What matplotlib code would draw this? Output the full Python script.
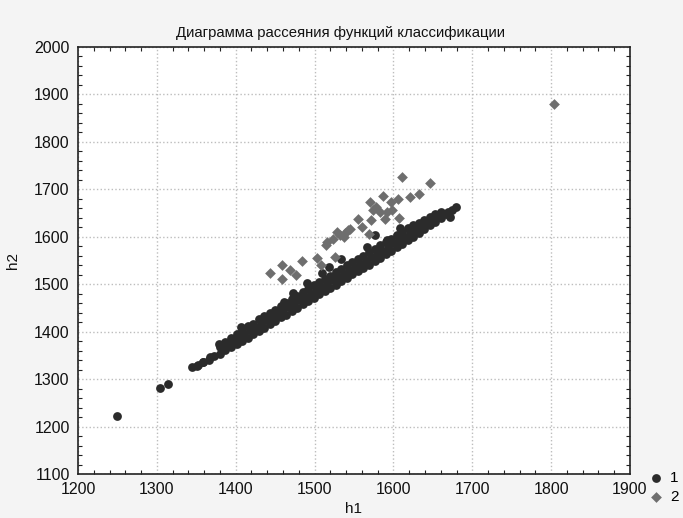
import numpy as np
import matplotlib
matplotlib.use("Agg")
import matplotlib.pyplot as plt
from matplotlib.ticker import MultipleLocator

# group 1 - dense band, lower edge
band_low_h1 = [1345, 1352, 1359, 1366, 1373, 1380, 1387, 1394, 1401, 1408, 1415, 1422,
               1429, 1436, 1443, 1450, 1457, 1464, 1471, 1478, 1485, 1492, 1499, 1506,
               1513, 1520, 1527, 1534, 1541, 1548, 1555, 1562, 1569, 1576, 1583, 1590,
               1597, 1604, 1611, 1618, 1625, 1632, 1639, 1646, 1653, 1660, 1667, 1674]
band_low_h2 = [1325, 1329, 1336, 1341, 1348, 1353, 1361, 1367, 1373, 1381, 1387, 1395,
               1401, 1408, 1416, 1422, 1430, 1436, 1444, 1450, 1458, 1464, 1471, 1479,
               1485, 1493, 1499, 1507, 1513, 1521, 1527, 1535, 1541, 1549, 1556, 1563,
               1570, 1578, 1585, 1593, 1600, 1608, 1616, 1624, 1632, 1640, 1648, 1656]

# group 1 - middle of the band
band_mid_h1 = [1383, 1390, 1397, 1404, 1411, 1418, 1425, 1432, 1439, 1446, 1453, 1460,
               1467, 1474, 1481, 1488, 1495, 1502, 1509, 1516, 1523, 1530, 1537, 1544,
               1551, 1558, 1565, 1572, 1579, 1586, 1593, 1600, 1607, 1614, 1621, 1628,
               1635, 1642, 1649]
band_mid_h2 = [1366, 1374, 1382, 1389, 1396, 1403, 1410, 1417, 1424, 1431, 1438, 1445,
               1452, 1459, 1466, 1474, 1480, 1487, 1494, 1501, 1508, 1515, 1522, 1529,
               1536, 1543, 1550, 1557, 1564, 1571, 1578, 1586, 1593, 1600, 1607, 1614,
               1621, 1628, 1635]

# group 1 - upper edge
band_up_h1 = [1380, 1387, 1394, 1401, 1408, 1415, 1422, 1429, 1436, 1443, 1450, 1457,
              1464, 1471, 1478, 1485, 1492, 1499, 1506, 1513, 1520, 1527, 1534, 1541,
              1548, 1555, 1562, 1569, 1576, 1583, 1590, 1597, 1604, 1611, 1618, 1625,
              1632, 1639, 1646, 1653, 1660]
band_up_h2 = [1368, 1378, 1386, 1395, 1402, 1411, 1417, 1426, 1432, 1440, 1446, 1455,
              1461, 1469, 1475, 1483, 1489, 1498, 1504, 1512, 1518, 1526, 1532, 1540,
              1546, 1554, 1560, 1568, 1574, 1582, 1588, 1596, 1603, 1611, 1618, 1624,
              1629, 1635, 1641, 1647, 1652]

# group 1 - single points off the band
extra1_h1 = [1249, 1304, 1314, 1351, 1358, 1367, 1379, 1393, 1407, 1461, 1473, 1490,
             1509, 1518, 1533, 1566, 1577, 1592, 1608, 1653, 1669, 1672, 1679]
extra1_h2 = [1222, 1281, 1290, 1328, 1336, 1347, 1374, 1379, 1410, 1463, 1482, 1503,
             1524, 1537, 1554, 1579, 1604, 1594, 1619, 1646, 1653, 1642, 1663]

# group 2
grp2_h1 = [1443, 1459, 1469, 1459, 1476, 1484, 1503, 1508, 1515, 1516, 1523, 1528,
           1526, 1537, 1542, 1532, 1539, 1545, 1560, 1555, 1569, 1571, 1589, 1607,
           1570, 1578, 1574, 1583, 1592, 1598, 1597, 1606, 1587, 1621, 1632, 1611,
           1646, 1803]
grp2_h2 = [1524, 1541, 1530, 1511, 1520, 1549, 1556, 1541, 1583, 1589, 1596, 1611,
           1558, 1600, 1615, 1604, 1608, 1617, 1621, 1638, 1606, 1636, 1638, 1640,
           1674, 1663, 1657, 1653, 1653, 1657, 1674, 1680, 1686, 1684, 1691, 1727,
           1714, 1880]

plt.rcParams['font.family'] = ['Liberation Sans', 'DejaVu Sans']

fig = plt.figure(figsize=(6.83, 5.18), dpi=100, facecolor='#f4f4f4')
ax = fig.add_axes([0.1142, 0.0849, 0.8082, 0.8244])
ax.set_facecolor('white')

g1_h1 = band_low_h1 + band_mid_h1 + band_up_h1 + extra1_h1
g1_h2 = band_low_h2 + band_mid_h2 + band_up_h2 + extra1_h2

ax.scatter(g1_h1, g1_h2, s=40, marker='o', color='#2b2b2b', linewidths=0,
           label='1', zorder=3)
ax.scatter(grp2_h1, grp2_h2, s=30, marker='D', color='#6e6e6e', linewidths=0,
           label='2', zorder=4)

ax.set_xlim(1200, 1900)
ax.set_ylim(1100, 2000)
ax.xaxis.set_major_locator(MultipleLocator(100))
ax.yaxis.set_major_locator(MultipleLocator(100))
ax.xaxis.set_minor_locator(MultipleLocator(20))
ax.yaxis.set_minor_locator(MultipleLocator(20))
ax.grid(True, which='major', linestyle=':', color='#bdbdbd', linewidth=1.0)
ax.set_axisbelow(True)

ax.tick_params(which='both', direction='in', top=True, right=True,
               color='#222222', labelsize=11.5, labelcolor='#111111')
ax.tick_params(which='major', length=0, pad=6)
ax.tick_params(which='minor', length=3, width=0.8)
for sp in ax.spines.values():
    sp.set_color('#222222')
    sp.set_linewidth(1.2)

ttl = ax.set_title('Диаграмма рассеяния функций классификации', fontsize=10.7,
                   color='#111111', pad=7)
ttl.set_x(0.475)
ax.set_xlabel('h1', fontsize=11, labelpad=3, color='#111111')
ax.set_ylabel('h2', fontsize=11, labelpad=10, color='#111111')

fig.legend(loc='upper left', bbox_to_anchor=(0.952, 0.09), frameon=False,
           fontsize=11, handlelength=0.8, handletextpad=0.5, labelspacing=0.3,
           borderaxespad=0, borderpad=0)

fig.savefig('out.png', dpi=100, facecolor=fig.get_facecolor())
